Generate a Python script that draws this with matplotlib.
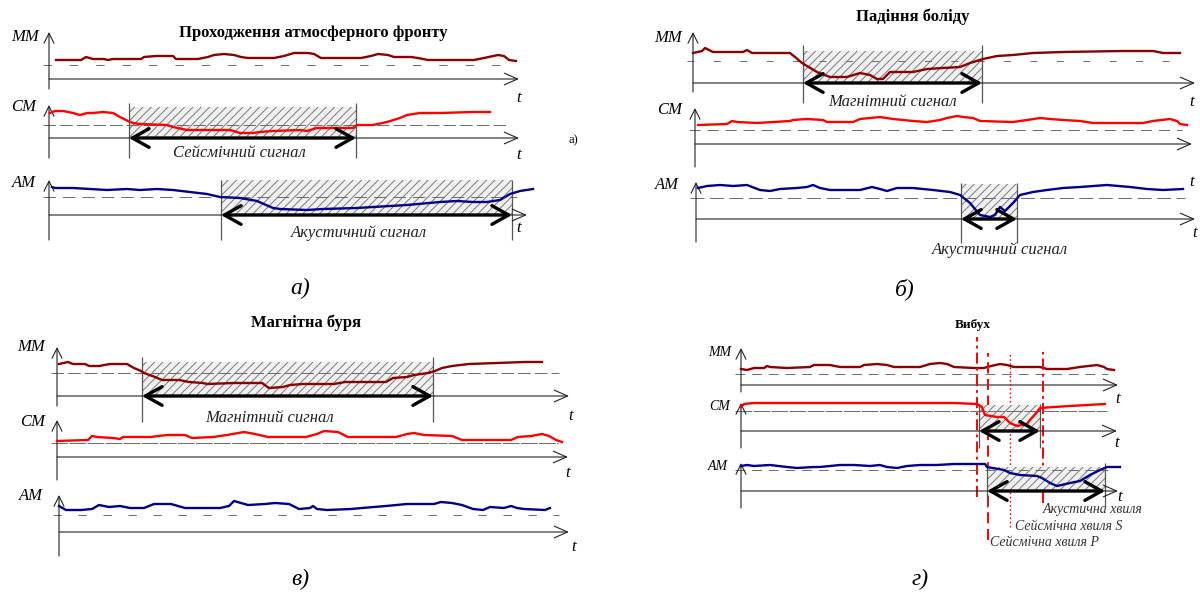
import matplotlib
matplotlib.use('Agg')
import matplotlib.pyplot as plt
from matplotlib.patches import Rectangle

plt.rcParams['font.family'] = ['Liberation Serif', 'DejaVu Serif']
plt.rcParams['lines.scale_dashes'] = False
plt.rcParams['hatch.color'] = '#7a7a7a'
plt.rcParams['hatch.linewidth'] = 0.7

W, H = 1200, 594

# ---- signals: time (px from origin) and level (px above time axis) ----
# а) Проходження атмосферного фронту
mm_a_t = [7, 32, 37, 44, 55, 59, 64, 92, 95, 107, 124, 127, 149, 159, 165, 175, 185, 192, 199, 225,
          235, 245, 259, 265, 272, 312, 322, 329, 339, 345, 362, 369, 379, 425, 435, 449, 455, 460, 467]
mm_a_v = [19, 19, 22, 20, 20, 19, 20, 20, 22, 23, 23, 20, 20, 22, 24, 25, 24, 22, 21, 21,
          23, 26, 26, 25, 21, 21, 23, 25, 24, 22, 22, 21, 19, 19, 21, 24, 23, 19, 18]
cm_a_t = [1, 6, 14, 24, 31, 38, 44, 54, 64, 71, 79, 84, 91, 118, 124, 138, 181, 191, 204, 211, 224,
          251, 258, 268, 291, 304, 308, 324, 338, 351, 358, 371, 391, 424, 441]
cm_a_v = [25, 27, 27, 25, 23, 25, 25, 26, 25, 21, 17, 15, 14, 13, 11, 8, 8, 5, 5, 6, 7,
          8, 7, 10, 10, 10, 13, 13, 16, 20, 23, 25, 25, 26, 26]
am_a_t = [3, 6, 24, 41, 58, 78, 91, 108, 124, 141, 158, 171, 191, 208, 224, 231, 258, 274, 308, 324,
          358, 391, 408, 424, 438, 451, 461, 471, 484]
am_a_v = [28, 27, 27, 26, 25, 26, 25, 26, 25, 23, 21, 18, 17, 14, 7, 6, 5, 6, 7, 8,
          10, 13, 14, 13, 13, 15, 21, 24, 26]

# б) Падіння боліду
mm_b_t = [0, 9, 12, 20, 50, 54, 59, 97, 102, 109, 114, 124, 137, 154, 167, 177, 184, 190, 197, 220,
          234, 250, 267, 277, 290, 304, 320, 340, 370, 430, 460, 470, 487]
mm_b_v = [30, 32, 35, 31, 31, 33, 30, 30, 26, 20, 17, 11, 6, 6, 10, 8, 4, 4, 11, 11,
          14, 15, 16, 20, 24, 27, 28, 30, 31, 32, 32, 30, 30]
cm_b_t = [3, 32, 37, 42, 62, 95, 98, 112, 128, 132, 158, 165, 185, 198, 218, 232, 245, 252, 262, 268,
          278, 285, 318, 332, 345, 355, 368, 385, 398, 448, 458, 475, 482, 485, 492]
cm_b_v = [19, 20, 23, 22, 21, 23, 24, 25, 24, 22, 22, 25, 27, 25, 23, 22, 24, 26, 28, 27,
          26, 23, 22, 24, 26, 25, 24, 23, 21, 21, 23, 25, 23, 20, 19]
am_b_t = [2, 11, 24, 37, 51, 64, 74, 84, 101, 111, 117, 124, 134, 164, 176, 184, 191, 201, 217, 237,
          254, 264, 274, 284, 294, 299, 304, 309, 317, 324, 337, 351, 367, 384, 411, 434, 451, 467, 487]
am_b_v = [31, 33, 34, 33, 34, 29, 28, 30, 31, 32, 34, 31, 29, 29, 32, 30, 28, 31, 31, 29,
          27, 24, 16, 4, 2, 4, 12, 8, 16, 24, 27, 29, 31, 32, 34, 32, 30, 29, 30]

# в) Магнітна буря
mm_c_t = [2, 11, 16, 28, 32, 42, 53, 59, 70, 77, 84, 87, 98, 105, 122, 132, 146, 150, 177, 205,
          212, 226, 233, 246, 277, 288, 329, 336, 350, 357, 371, 378, 385, 395, 412, 468, 485]
mm_c_v = [32, 34, 32, 32, 30, 30, 32, 32, 32, 28, 25, 23, 19, 16, 16, 14, 13, 12, 13, 13,
          8, 9, 11, 12, 12, 14, 14, 18, 19, 21, 23, 25, 28, 30, 32, 34, 34]
cm_c_t = [0, 31, 35, 40, 56, 63, 66, 94, 101, 111, 128, 135, 156, 170, 187, 198, 211, 249, 260, 267,
          281, 291, 339, 350, 357, 367, 395, 405, 454, 461, 474, 485, 492, 499, 505]
cm_c_v = [16, 17, 21, 20, 19, 18, 20, 20, 21, 22, 22, 19, 20, 22, 25, 23, 20, 20, 23, 26,
          25, 20, 20, 23, 24, 22, 21, 17, 17, 20, 21, 23, 21, 17, 15]
am_c_t = [0, 7, 22, 33, 40, 50, 61, 71, 85, 95, 106, 112, 126, 161, 170, 175, 182, 189, 206, 216,
          230, 240, 251, 254, 258, 268, 292, 303, 327, 348, 369, 375, 382, 393, 403, 414, 424, 431,
          445, 452, 458, 465, 486, 491]
am_c_v = [26, 22, 22, 23, 27, 25, 26, 24, 24, 28, 28, 28, 24, 24, 26, 31, 29, 27, 28, 29,
          28, 23, 24, 26, 23, 22, 23, 24, 26, 28, 28, 28, 30, 29, 27, 23, 22, 25, 24, 26, 24, 23, 22, 24]

# г) Вибух
mm_d_t = [0, 6, 13, 23, 26, 29, 46, 69, 73, 89, 99, 119, 123, 136, 146, 153, 179, 189, 199, 206,
          213, 233, 243, 246, 259, 266, 273, 299, 306, 326, 339, 356, 363, 366, 373]
mm_d_v = [16, 15, 17, 17, 19, 18, 17, 18, 20, 20, 18, 18, 20, 21, 20, 18, 18, 21, 22, 21,
          18, 17, 17, 18, 21, 20, 18, 18, 16, 16, 18, 20, 18, 16, 15]
cm_d_t = [0, 3, 13, 29, 46, 79, 113, 146, 179, 213, 236, 241, 244, 256, 263, 269, 276, 286, 289, 296,
          299, 313, 329, 346, 364]
cm_d_v = [24, 27, 28, 28, 28, 28, 28, 28, 28, 28, 27, 24, 16, 14, 14, 8, 5, 7, 11, 19,
          23, 24, 25, 26, 27]
am_d_t = [0, 6, 13, 29, 46, 56, 73, 79, 89, 99, 113, 129, 139, 146, 156, 166, 179, 196, 213, 233,
          244, 246, 263, 269, 279, 296, 301, 309, 316, 329, 339, 349, 359, 366, 379]
am_d_v = [25, 26, 25, 26, 24, 23, 24, 24, 25, 26, 26, 25, 26, 24, 23, 25, 26, 26, 27, 27,
          27, 24, 21, 18, 16, 15, 13, 8, 5, 8, 10, 16, 21, 24, 24]
event_t = [236, 247, 269, 302]          # вибух, P, S, акустична хвиля
event_styles = [(0, (8, 3, 2, 3)), (0, (8, 4)), (0, (1.2, 1.8)), (0, (8, 3, 2, 3))]
event_top = [48, 32, 33, 33]
event_bottom = [-112, -155, -142, -118]

# dotted reference levels and signal windows (t0, t1, top)
levels = {'mm_a': 14.5, 'cm_a': 13, 'am_a': 18, 'mm_b': 22, 'cm_b': 14.5, 'am_b': 21,
          'mm_c': 23, 'cm_c': 14, 'am_c': 17, 'mm_d': 11, 'cm_d': 20, 'am_d': 21}
windows = {'cm_a': (80, 307, 31), 'am_a': (172, 463, 35), 'mm_b': (110, 289, 32),
           'am_b': (265, 321, 35), 'mm_c': (85, 376, 34), 'cm_d': (238, 299, 26),
           'am_d': (246, 364, 24)}
win_lines = {'cm_a': (35, -20), 'am_a': (35, -25), 'mm_b': (38, -20), 'am_b': (36, -24),
             'mm_c': (39, -26), 'cm_d': (27, -17), 'am_d': (28, -16)}

# strip geometry in pixels: x0, y of time axis, length, up, down
layout = {'mm_a': (49, 79, 470, 47, 10), 'cm_a': (49, 138, 470, 33, 20), 'am_a': (49, 215, 478, 35, 25),
          'mm_b': (693, 83, 502, 51, 9), 'cm_b': (695, 144, 497, 36, 23), 'am_b': (696, 219, 499, 37, 23),
          'mm_c': (57, 396, 512, 49, 10), 'cm_c': (57, 457, 511, 37, 23), 'am_c': (59, 532, 510, 37, 24),
          'mm_d': (741, 385, 377, 37, 7), 'cm_d': (741, 431, 376, 28, 17), 'am_d': (741, 491, 377, 28, 17)}
dash = {'mm_a': (6, 13), 'cm_a': (9, 3), 'am_a': (9, 5), 'mm_b': (5, 14), 'cm_b': (8, 5), 'am_b': (10, 4),
        'mm_c': (9, 3), 'cm_c': (12, 1), 'am_c': (6, 12), 'mm_d': (7, 5), 'cm_d': (12, 1), 'am_d': (7, 5)}
series = {'mm_a': (mm_a_t, mm_a_v), 'cm_a': (cm_a_t, cm_a_v), 'am_a': (am_a_t, am_a_v),
          'mm_b': (mm_b_t, mm_b_v), 'cm_b': (cm_b_t, cm_b_v), 'am_b': (am_b_t, am_b_v),
          'mm_c': (mm_c_t, mm_c_v), 'cm_c': (cm_c_t, cm_c_v), 'am_c': (am_c_t, am_c_v),
          'mm_d': (mm_d_t, mm_d_v), 'cm_d': (cm_d_t, cm_d_v), 'am_d': (am_d_t, am_d_v)}
colors = {'mm': '#8b0000', 'cm': '#ff0000', 'am': '#00008b'}

fig = plt.figure(figsize=(12, 5.94), dpi=100)
ov = fig.add_axes([0, 0, 1, 1])
ov.set_xlim(0, W)
ov.set_ylim(H, 0)
ov.set_axis_off()

axes = {}
for name, (x0, y0, length, up, down) in layout.items():
    ax = fig.add_axes([x0 / W, 1 - (y0 + down) / H, length / W, (up + down) / H])
    ax.set_xlim(0, length)
    ax.set_ylim(-down, up)
    ax.set_axis_off()
    axes[name] = ax
    # axes arrows
    ax.annotate('', xy=(0, up), xytext=(0, -down), annotation_clip=False,
                arrowprops=dict(arrowstyle='->,head_length=0.6,head_width=0.3', lw=0.8,
                                color='#222222', shrinkA=0, shrinkB=0, mutation_scale=12))
    ax.annotate('', xy=(length, 0), xytext=(0, 0), annotation_clip=False,
                arrowprops=dict(arrowstyle='->,head_length=0.8,head_width=0.35', lw=0.8,
                                color='#222222', shrinkA=0, shrinkB=0, mutation_scale=12))
    # reference level
    ax.plot([-6, length - 10], [levels[name]] * 2, color='#6a6a6a', lw=0.7,
            ls=(0, dash[name]), clip_on=False, zorder=2)
    t, v = series[name]
    ax.plot(t, v, color=colors[name[:2]], lw=1.7, solid_joinstyle='round',
            clip_on=False, zorder=3)
    if name in windows:
        t0, t1, top = windows[name]
        ax.add_patch(Rectangle((t0, 0), t1 - t0, top, facecolor='#f0f0f0', edgecolor='#7a7a7a',
                               hatch='////', lw=0, zorder=1))
        lt, lb = win_lines[name]
        ax.vlines([t0, t1], lb, lt, color='#555555', lw=0.9, clip_on=False, zorder=2)
        ax.annotate('', xy=(t1, 0), xytext=(t0, 0), annotation_clip=False,
                    arrowprops=dict(arrowstyle='<->,head_length=0.5,head_width=0.28', lw=2.4,
                                    color='black', shrinkA=0, shrinkB=0, mutation_scale=24),
                    zorder=4)

# explosion markers in panel г
for t, ls, top, bot in zip(event_t, event_styles, event_top, event_bottom):
    lw = 1.0 if ls[1][0] < 2 else 1.4
    axes['mm_d'].vlines(t, bot, top, color='#ff0000', lw=lw, linestyles=[ls], clip_on=False, zorder=5)

# ---- texts ----
titles = [('Проходження атмосферного фронту', 313, 33, 12), ('Падіння боліду', 913, 17, 12),
          ('Магнітна буря', 306, 323, 12), ('Вибух', 973, 325, 9.5)]
for s, x, y, fs in titles:
    ov.text(x, y, s, ha='center', va='center', fontsize=fs, weight='bold')

strip_labels = [('ММ', 25, 37, 12), ('СМ', 24, 107, 12), ('АМ', 24, 183, 12),
                ('ММ', 668, 38, 12), ('СМ', 670, 110, 12), ('АМ', 667, 185, 12),
                ('ММ', 31, 347, 12), ('СМ', 33, 422, 12), ('АМ', 31, 496, 12),
                ('ММ', 720, 352, 10), ('СМ', 720, 407, 10), ('АМ', 718, 467, 10)]
for s, x, y, fs in strip_labels:
    ov.text(x, y, s, ha='center', va='center', fontsize=fs, style='italic')

t_labels = [(519, 98), (519, 155), (519, 228), (1192, 102), (1192, 182), (1195, 233),
            (571, 416), (568, 473), (574, 547), (1118, 399), (1117, 443), (1120, 497)]
for x, y in t_labels:
    ov.text(x, y, 't', ha='center', va='center', fontsize=12, style='italic')

signal_labels = [('Сейсмічний сигнал', 239, 153), ('Акустичний сигнал', 359, 233),
                 ('Магнітний сигнал', 893, 102), ('Акустичний сигнал', 1000, 250),
                 ('Магнітний сигнал', 270, 418)]
for s, x, y in signal_labels:
    ov.text(x, y, s, ha='center', va='center', fontsize=12, style='italic', color='#222222')

wave_labels = [('Акустична хвиля', 1043, 510), ('Сейсмічна хвиля S', 1015, 526),
               ('Сейсмічна хвиля P', 990, 542)]
for s, x, y in wave_labels:
    ov.text(x, y, s, ha='left', va='center', fontsize=10, style='italic', color='#333333')

panel_letters = [('а)', 300, 288), ('б)', 905, 289), ('в)', 300, 579), ('г)', 920, 579)]
for s, x, y in panel_letters:
    ov.text(x, y, s, ha='center', va='center', fontsize=17, style='italic')
ov.text(573, 140, 'а)', ha='center', va='center', fontsize=9)

fig.savefig('out.png', dpi=100)
